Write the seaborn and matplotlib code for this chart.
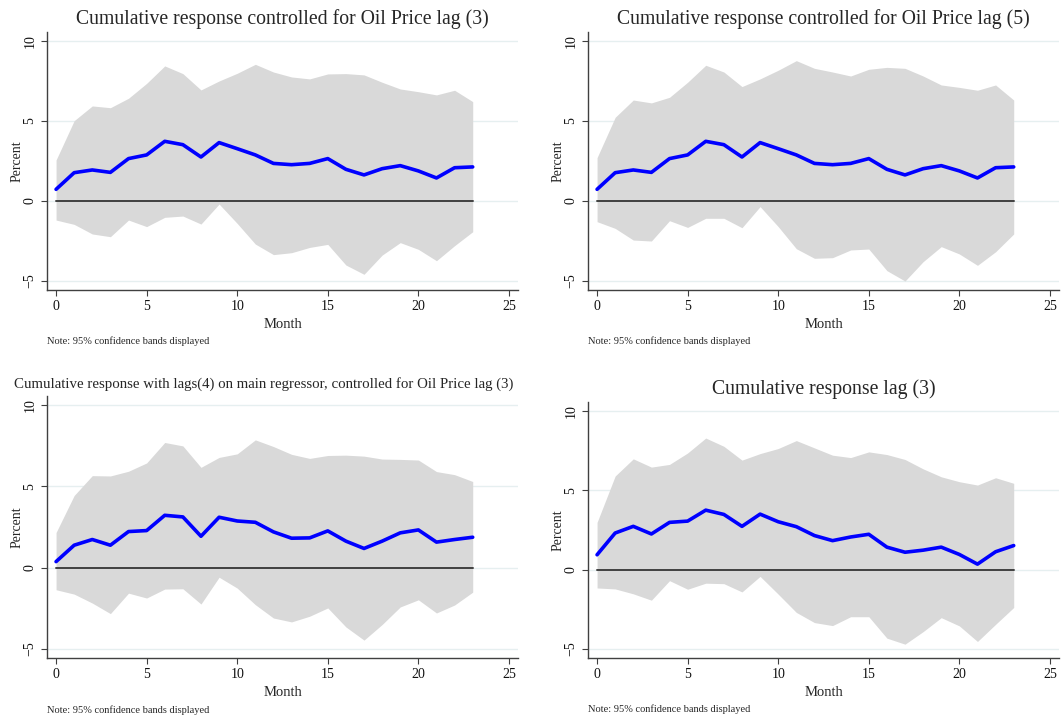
import numpy as np
import pandas as pd
import seaborn as sns
import matplotlib.pyplot as plt

# Месяцы горизонта отклика
months = list(range(24))

# Панель 1: контроль на цену нефти, лаг 3
resp_oil3 = [0.73, 1.77, 1.94, 1.79, 2.65, 2.88, 3.73, 3.52, 2.75, 3.65, 3.27, 2.88,
             2.35, 2.27, 2.35, 2.65, 1.98, 1.63, 2.02, 2.21, 1.88, 1.44, 2.08, 2.13]
hi_oil3 = [2.56, 5.02, 5.94, 5.83, 6.42, 7.35, 8.44, 7.96, 6.94, 7.50, 7.98, 8.54,
           8.06, 7.75, 7.63, 7.94, 7.96, 7.88, 7.42, 7.00, 6.83, 6.63, 6.92, 6.21]
lo_oil3 = [-1.19, -1.46, -2.06, -2.23, -1.19, -1.60, -1.02, -0.94, -1.44, -0.19, -1.40, -2.69,
           -3.35, -3.23, -2.90, -2.71, -4.00, -4.58, -3.38, -2.60, -3.02, -3.73, -2.79, -1.92]

# Панель 2: контроль на цену нефти, лаг 5
resp_oil5 = [0.73, 1.77, 1.94, 1.79, 2.65, 2.88, 3.73, 3.52, 2.75, 3.65, 3.27, 2.88,
             2.35, 2.27, 2.35, 2.65, 1.98, 1.63, 2.02, 2.21, 1.88, 1.44, 2.08, 2.13]
hi_oil5 = [2.71, 5.23, 6.31, 6.13, 6.48, 7.42, 8.48, 8.06, 7.15, 7.63, 8.17, 8.77,
           8.29, 8.06, 7.81, 8.23, 8.35, 8.29, 7.81, 7.25, 7.10, 6.92, 7.25, 6.31]
lo_oil5 = [-1.29, -1.71, -2.44, -2.50, -1.23, -1.65, -1.08, -1.08, -1.67, -0.35, -1.60, -2.98,
           -3.58, -3.54, -3.06, -3.00, -4.35, -5.00, -3.79, -2.85, -3.31, -4.02, -3.17, -2.06]

# Панель 3: лаги(4) на основном регрессоре
resp_lags4 = [0.37, 1.38, 1.73, 1.38, 2.22, 2.28, 3.22, 3.12, 1.93, 3.10, 2.87, 2.79,
              2.20, 1.81, 1.83, 2.26, 1.63, 1.18, 1.63, 2.14, 2.32, 1.57, 1.73, 1.87]
hi_lags4 = [2.16, 4.44, 5.66, 5.64, 5.93, 6.44, 7.70, 7.49, 6.17, 6.78, 7.00, 7.86,
            7.45, 6.97, 6.72, 6.90, 6.92, 6.86, 6.68, 6.66, 6.62, 5.91, 5.72, 5.30]
lo_lags4 = [-1.36, -1.63, -2.18, -2.83, -1.57, -1.87, -1.32, -1.30, -2.24, -0.59, -1.26, -2.28,
            -3.10, -3.34, -2.99, -2.48, -3.65, -4.46, -3.50, -2.42, -1.98, -2.79, -2.30, -1.51]

# Панель 4: без контроля, лаг 3
resp_lag3 = [0.94, 2.31, 2.73, 2.25, 2.98, 3.06, 3.75, 3.48, 2.73, 3.50, 3.02, 2.71,
             2.15, 1.83, 2.06, 2.23, 1.42, 1.10, 1.23, 1.42, 0.96, 0.35, 1.13, 1.52]
hi_lag3 = [2.98, 5.90, 6.98, 6.46, 6.63, 7.35, 8.29, 7.77, 6.90, 7.31, 7.63, 8.13,
           7.67, 7.21, 7.06, 7.42, 7.25, 6.94, 6.35, 5.85, 5.54, 5.33, 5.79, 5.44]
lo_lag3 = [-1.15, -1.21, -1.52, -1.92, -0.69, -1.23, -0.85, -0.88, -1.40, -0.42, -1.54, -2.69,
           -3.33, -3.52, -2.96, -2.96, -4.31, -4.69, -3.90, -3.02, -3.54, -4.52, -3.44, -2.38]

titles = ['Cumulative response controlled for Oil Price lag (3)',
          'Cumulative response controlled for Oil Price lag (5)',
          'Cumulative response with lags(4) on main regressor, controlled for Oil Price lag (3)',
          'Cumulative response lag (3)']
title_sizes = [14.2, 14.2, 10.7, 14.2]
title_x = [0.5, 0.5, 0.46, 0.5]
note = 'Note: 95% confidence bands displayed'

panels = [(resp_oil3, hi_oil3, lo_oil3), (resp_oil5, hi_oil5, lo_oil5),
          (resp_lags4, hi_lags4, lo_lags4), (resp_lag3, hi_lag3, lo_lag3)]

sns.set_style('white')
plt.rcParams['font.family'] = ['Liberation Serif', 'DejaVu Serif']

fig = plt.figure(figsize=(10.64, 7.16), dpi=100)
W, H = 1064, 716
# левый край, верх, низ (px) каждой панели
boxes = [(47, 32, 290), (588, 32, 290), (47, 396, 658), (588, 402, 658)]

for k, ((resp, hi, lo), (lx, ty, by)) in enumerate(zip(panels, boxes)):
    ax = fig.add_axes([lx / W, 1 - by / H, 471 / W, (by - ty) / H])
    df = pd.DataFrame({'Month': months, 'resp': resp, 'hi': hi, 'lo': lo})
    ax.fill_between(df['Month'], df['lo'], df['hi'], color='#d9d9d9', lw=0, zorder=1)
    ax.axhline(0, xmin=0.5 / 26, xmax=23.5 / 26, color='#404040', lw=1.4, zorder=2)
    sns.lineplot(data=df, x='Month', y='resp', ax=ax, color='#0000ff', lw=2.6, zorder=3)
    ax.set_xlim(-0.5, 25.5)
    ax.set_ylim(-5.56, 10.56)
    ax.set_xticks([0, 5, 10, 15, 20, 25])
    ax.set_yticks([-5, 0, 5, 10])
    ax.yaxis.grid(True, color='#e6eff0', lw=1.0, zorder=0)
    ax.set_axisbelow(True)
    for s in ['top', 'right']:
        ax.spines[s].set_visible(False)
    for s in ['left', 'bottom']:
        ax.spines[s].set_color('#404040')
        ax.spines[s].set_linewidth(1.0)
    ax.tick_params(axis='both', direction='out', length=4, width=0.8, color='#404040',
                   labelsize=10, labelcolor='#111111', bottom=True, left=True)
    for t in ax.get_yticklabels():
        t.set_rotation(90)
        t.set_va('center')
    ax.set_ylabel('Percent', fontsize=10, labelpad=0)
    ax.set_xlabel('Month', fontsize=10.5, labelpad=3)
    ax.set_title(titles[k], fontsize=title_sizes[k], pad=6, x=title_x[k])
    ax.text(0.0, -0.18, note, transform=ax.transAxes, fontsize=7.5, ha='left', va='top')

fig.savefig('out.png', dpi=100, facecolor='white')
